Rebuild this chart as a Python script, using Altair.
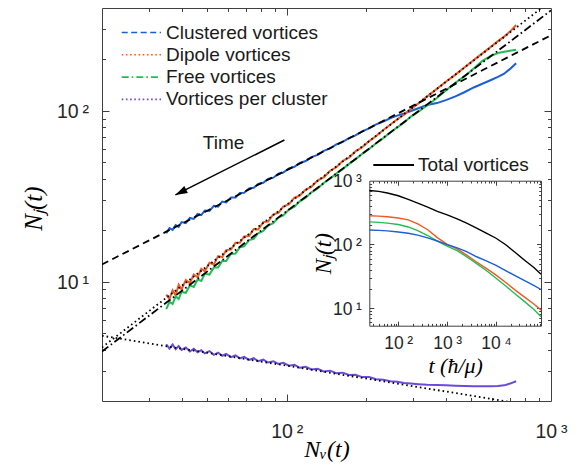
import math
import altair as alt
import pandas as pd

# ---------------- main panel data ----------------
nv_pts = [35, 36, 37, 38, 39, 40, 41.5, 43, 44.5, 46, 47.5, 49, 51, 53, 55, 57, 59,
          61.5, 64, 66.5, 69, 72, 75, 78, 81.5, 85, 89, 93, 97, 102, 107, 112, 118,
          124, 131, 138, 146, 154, 163, 172, 182, 193, 205, 218, 232, 247, 262, 278,
          295, 315, 340, 370, 400, 435, 470, 510, 550, 590, 630, 665, 700, 738]
clustered = [19.2, 20.6, 20.1, 21.4, 20.9, 22.3, 22.0, 23.6, 23.3, 24.9, 24.5, 26.1,
             25.9, 27.8, 27.5, 29.4, 29.1, 31.1, 31.1, 33.0, 33.1, 35.1, 35.4, 37.3,
             37.9, 39.9, 40.6, 42.8, 43.5, 46.0, 47.0, 49.5, 50.8, 53.6, 55.2, 58.3,
             60.2, 63.5, 65.8, 69.3, 71.8, 75.8, 79.0, 83.3, 86.6, 90.6, 93.8, 96.4,
             99.8, 103.5, 108.2, 111.0, 115.5, 121.5, 128.5, 137, 144, 151, 158, 165,
             176, 190]
dipole = [8.4, 7.9, 8.9, 8.3, 9.6, 9.0, 10.2, 9.8, 11.0, 10.6, 11.9, 11.5, 12.9, 12.6,
          14.1, 13.9, 15.3, 15.4, 16.9, 16.9, 18.4, 18.5, 20.3, 20.2, 22.3, 22.5, 24.8,
          25.3, 27.5, 28.4, 31.0, 31.9, 34.6, 35.9, 39.2, 40.8, 44.6, 46.7, 51.0, 53.2,
          57.9, 61.2, 66.5, 71.2, 77.3, 83.1, 89.3, 95.0, 102.5, 110.5, 121.5, 134.5,
          148, 163, 179.5, 198, 217, 236, 256, 272, 291, 318]
free = [6.9, 7.6, 7.4, 8.2, 7.9, 8.7, 8.6, 9.5, 9.3, 10.3, 10.1, 11.1, 11.0, 12.1, 12.1,
        13.2, 13.2, 14.5, 14.6, 15.9, 16.1, 17.5, 17.8, 19.2, 19.8, 21.3, 22.0, 23.7,
        24.4, 26.4, 27.5, 29.5, 31.0, 33.3, 35.1, 37.8, 40.0, 43.0, 45.6, 48.9, 52.0,
        56.0, 59.8, 64.6, 69.2, 74.9, 80.0, 85.5, 92.5, 99.0, 107.5, 119.0, 131.5, 146,
        159, 177, 196, 209, 218, 222, 225, 228]
per_cluster = [4.30, 4.05, 4.28, 4.02, 4.20, 3.98, 4.12, 3.90, 4.05, 3.86, 3.97, 3.80,
               3.92, 3.73, 3.84, 3.68, 3.77, 3.61, 3.70, 3.55, 3.63, 3.48, 3.56, 3.42,
               3.49, 3.36, 3.42, 3.30, 3.35, 3.22, 3.26, 3.13, 3.17, 3.06, 3.09, 2.98,
               3.01, 2.91, 2.93, 2.84, 2.85, 2.76, 2.76, 2.68, 2.66, 2.61, 2.59, 2.55,
               2.53, 2.51, 2.49, 2.48, 2.47, 2.46, 2.45, 2.44, 2.44, 2.44, 2.45, 2.47,
               2.53, 2.61]

# power-law fits (straight lines on log-log): end points
fit_nv = [20, 1000]
fit_clustered = [12.6, 277]
fit_dipole = [4.12, 441]
fit_free = [3.9, 387]
fit_per_cluster = [4.82, 1.806]

# "Time" arrow annotation (data coordinates)
arrow_nv = [98, 37.9]
arrow_nj = [67.5, 32.2]
time_nv = [57.7]
time_nj = [64.8]
time_text = ["Time"]

legend_labels = ["Clustered vortices", "Dipole vortices", "Free vortices",
                 "Vortices per cluster"]
inset_legend_label = ["Total vortices"]

# ---------------- inset data ----------------
t_pts = [25.6, 40, 60, 100, 160, 250, 400, 630, 1000, 1600, 2500, 4000, 6300, 10000,
         16000, 25000, 40000, 60000, 82800]
total_t = [700, 680, 640, 580, 510, 445, 385, 330, 290, 252, 215, 180, 150, 125, 98,
           74, 55, 43, 34]
dipole_t = [282, 278, 272, 260, 243, 210, 170, 128, 100, 85, 68, 53, 42, 33, 25, 19,
            14.5, 11.5, 9.3]
free_t = [226, 222, 216, 205, 188, 165, 138, 113, 94, 80, 64, 50, 39, 29.5, 22, 16.5,
          12.3, 9.4, 7.3]
clustered_t = [168, 166, 163, 157, 150, 140, 127, 113, 99.5, 88, 77, 64, 55, 47, 38.5,
               32, 26.5, 22.5, 19.6]

# ---------------- ticks ----------------
x_major = [100, 1000]
x_all = [30, 40, 50, 60, 70, 80, 90, 100, 200, 300, 400, 500, 600, 700, 800, 900]
y_major = [10, 100]
y_all = [3, 4, 5, 6, 7, 8, 9, 10, 20, 30, 40, 50, 60, 70, 80, 90, 100, 200, 300]
ix_major = [100, 1000, 10000]
ix_all = [30, 40, 50, 60, 70, 80, 90, 100, 200, 300, 400, 500, 600, 700, 800, 900,
          1000, 2000, 3000, 4000, 5000, 6000, 7000, 8000, 9000, 10000, 20000, 30000,
          40000, 50000, 60000, 70000, 80000]
iy_major = [10, 100, 1000]
iy_all = [6, 7, 8, 9, 10, 20, 30, 40, 50, 60, 70, 80, 90, 100, 200, 300, 400, 500,
          600, 700, 800, 900]

# ---------------- styles ----------------
W, H = 449, 393
BLUE, ORANGE, GREEN, PURPLE = "#1a5fd4", "#ef5a22", "#22bb55", "#6a4cd6"
FRAME = "#404040"
SANS = "Liberation Sans"
SERIF = "Liberation Serif"
SUP = {1: "\u00b9", 2: "\u00b2", 3: "\u00b3", 4: "\u2074"}

# inset placement inside the main plot area (pixels)
IX0, IX1 = 267.3, 439.0
IY0, IY1 = 172.7, 317.7


def pow_label_expr(majors):
    expr = "''"
    for v in reversed(majors):
        e = round(math.log10(v))
        expr = f"datum.value == {v} ? '10\u2009{SUP[e]}' : {expr}"
    return expr


def tick_cond(majors, big, small):
    return {"condition": {"test": f"indexof({majors}, datum.value) >= 0", "value": big},
            "value": small}


def inward(orient, offset, values, majors, big, small):
    return alt.Axis(orient=orient, offset=offset, values=values, labels=False,
                    ticks=True, tickSize=tick_cond(majors, big, small),
                    tickColor=FRAME, tickWidth=1, domain=True, domainColor=FRAME,
                    domainWidth=1, grid=False, title=None)


def mx(axis):
    return alt.X("nv:Q", scale=alt.Scale(type="log", domain=[20, 1000]), axis=axis)


def my(axis):
    return alt.Y("nj:Q", scale=alt.Scale(type="log", domain=[2, 400]), axis=axis)


def ix(axis):
    return alt.X("t:Q", scale=alt.Scale(type="log", domain=[25.6, 82800],
                                        range=[IX0, IX1]), axis=axis)


def iy(axis):
    return alt.Y("n:Q", scale=alt.Scale(type="log", domain=[5.3, 1000],
                                        range=[IY1, IY0]), axis=axis)


main_x_axis = alt.Axis(orient="bottom", values=x_major, labelExpr=pow_label_expr(x_major),
                       ticks=False, domain=False, grid=False, labelFont=SANS,
                       labelFontSize=19.5, labelColor="#262626", labelPadding=36,
                       labelBaseline="alphabetic", labelFlush=False, labelOverlap=False,
                       title="N\u1d65(t)", titleFont=SERIF, titleFontStyle="italic",
                       titleFontWeight="normal", titleFontSize=24, titleColor="black",
                       titleY=55, titleBaseline="alphabetic")
main_y_axis = alt.Axis(orient="left", values=y_major, labelExpr=pow_label_expr(y_major),
                       ticks=False, domain=False, grid=False, labelFont=SANS,
                       labelFontSize=19.5, labelColor="#262626", labelPadding=13.5,
                       labelOffset=1, labelFlush=False, labelOverlap=False,
                       title="N\u2c7c(t)", titleFont=SERIF, titleFontStyle="italic",
                       titleFontWeight="normal", titleFontSize=25, titleColor="black",
                       titleX=-61, titleY=200, titleBaseline="alphabetic")

inset_x_axis = alt.Axis(orient="bottom", offset=-(H - IY1), values=ix_major,
                        labelExpr=pow_label_expr(ix_major), ticks=False, domain=False,
                        grid=False, labelFont=SANS, labelFontSize=17.5,
                        labelColor="#262626", labelPadding=22.5,
                        labelBaseline="alphabetic", labelFlush=False,
                        labelOverlap=False, title="t (\u0127/\u03bc)", titleFont=SERIF,
                        titleFontStyle="italic", titleFontWeight="normal",
                        titleFontSize=22, titleColor="black", titleY=47,
                        titleBaseline="alphabetic")
inset_y_axis = alt.Axis(orient="left", offset=-IX0, values=iy_major,
                        labelExpr=pow_label_expr(iy_major), ticks=False, domain=False,
                        grid=False, labelFont=SANS, labelFontSize=17.5,
                        labelColor="#262626", labelPadding=8, labelOffset=1,
                        labelFlush=False, labelOverlap=False, title="N\u2c7c(t)",
                        titleFont=SERIF, titleFontStyle="italic",
                        titleFontWeight="normal", titleFontSize=23, titleColor="black",
                        titleX=-39, titleBaseline="alphabetic")

# ---------------- main layers ----------------
df_cl = pd.DataFrame({"nv": nv_pts, "nj": clustered})
df_dp = pd.DataFrame({"nv": nv_pts, "nj": dipole})
df_fr = pd.DataFrame({"nv": nv_pts, "nj": free})
df_pc = pd.DataFrame({"nv": nv_pts, "nj": per_cluster})

line_w = 2.0
l_cl = alt.Chart(df_cl).mark_line(color=BLUE, strokeWidth=line_w).encode(
    x=mx(main_x_axis), y=my(main_y_axis))
l_dp = alt.Chart(df_dp).mark_line(color=ORANGE, strokeWidth=line_w).encode(
    x=mx(inward("top", -H, x_all, x_major, 7, 3.5)),
    y=my(inward("right", -W, y_all, y_major, 7, 3.5)))
l_fr = alt.Chart(df_fr).mark_line(color=GREEN, strokeWidth=line_w).encode(
    x=mx(inward("bottom", -H, x_all, x_major, 7, 3.5)),
    y=my(inward("left", -W, y_all, y_major, 7, 3.5)))
l_pc = alt.Chart(df_pc).mark_line(color=PURPLE, strokeWidth=line_w).encode(
    x=mx(None), y=my(None))

fit_specs = [(fit_clustered, [7, 4.5]), (fit_dipole, [1.6, 3]),
             (fit_free, [8, 3, 1.6, 3]), (fit_per_cluster, [1.6, 3])]
fit_layers = []
for vals, dash in fit_specs:
    fit_layers.append(
        alt.Chart(pd.DataFrame({"nv": fit_nv, "nj": vals}))
        .mark_line(color="black", strokeWidth=1.8, strokeDash=dash, clip=True)
        .encode(x=mx(None), y=my(None)))

arrow_line = alt.Chart(pd.DataFrame({"nv": arrow_nv, "nj": arrow_nj})).mark_line(
    color="black", strokeWidth=1.5).encode(x=mx(None), y=my(None))
arrow_head = alt.Chart(pd.DataFrame({"nv": arrow_nv[1:], "nj": arrow_nj[1:]})).mark_point(
    shape="M0,0L0.33,1L-0.33,1Z", size=576, angle=243.2, filled=True, color="black",
    opacity=1, strokeWidth=0).encode(x=mx(None), y=my(None))
time_lbl = alt.Chart(pd.DataFrame({"nv": time_nv, "nj": time_nj, "label": time_text})).mark_text(
    font=SANS, fontSize=19, color="#1a1a1a", align="center", baseline="middle").encode(
    x=mx(None), y=my(None), text="label:N")

legend_layers = []
leg_styles = [(BLUE, [6, 3.5]), (ORANGE, [1.6, 2.6]), (GREEN, [7, 3, 1.6, 3]),
              (PURPLE, [1.6, 2.6])]
for i, (lab, (col, dash)) in enumerate(zip(legend_labels, leg_styles)):
    yy = 24.5 + 22.3 * i
    d = pd.DataFrame({"label": [lab]})
    legend_layers.append(alt.Chart(d).mark_rule(color=col, strokeWidth=1.6, strokeDash=dash)
                         .encode(x=alt.value(19.7), x2=alt.value(59), y=alt.value(yy)))
    legend_layers.append(alt.Chart(d).mark_text(font=SANS, fontSize=19, color="#1a1a1a",
                                                align="left", baseline="middle")
                         .encode(x=alt.value(64), y=alt.value(yy), text="label:N"))

d_tot = pd.DataFrame({"label": inset_legend_label})
legend_layers.append(alt.Chart(d_tot).mark_rule(color="black", strokeWidth=1.8)
                     .encode(x=alt.value(271.3), x2=alt.value(312), y=alt.value(157)))
legend_layers.append(alt.Chart(d_tot).mark_text(font=SANS, fontSize=19, color="#1a1a1a",
                                                align="left", baseline="middle")
                     .encode(x=alt.value(316), y=alt.value(157), text="label:N"))

main = alt.layer(l_cl, l_dp, l_fr, l_pc, *fit_layers, arrow_line, arrow_head, time_lbl,
                 *legend_layers).resolve_axis(x="independent", y="independent")

# ---------------- inset layers ----------------
iw = 1.4
i_tot = alt.Chart(pd.DataFrame({"t": t_pts, "n": total_t})).mark_line(
    color="black", strokeWidth=iw).encode(x=ix(inset_x_axis), y=iy(inset_y_axis))
i_dp = alt.Chart(pd.DataFrame({"t": t_pts, "n": dipole_t})).mark_line(
    color=ORANGE, strokeWidth=iw).encode(
    x=ix(inward("top", -IY1, ix_all, ix_major, 4.5, 2.3)),
    y=iy(inward("right", -(W - IX0), iy_all, iy_major, 4.5, 2.3)))
i_fr = alt.Chart(pd.DataFrame({"t": t_pts, "n": free_t})).mark_line(
    color=GREEN, strokeWidth=iw).encode(
    x=ix(inward("bottom", -(H - IY0), ix_all, ix_major, 4.5, 2.3)),
    y=iy(inward("left", -IX1, iy_all, iy_major, 4.5, 2.3)))
i_cl = alt.Chart(pd.DataFrame({"t": t_pts, "n": clustered_t})).mark_line(
    color=BLUE, strokeWidth=iw).encode(x=ix(None), y=iy(None))

inset = alt.layer(i_tot, i_dp, i_fr, i_cl).resolve_axis(x="independent", y="independent")

chart = (alt.layer(main, inset)
         .resolve_scale(x="independent", y="independent")
         .properties(width=W, height=H, autosize=alt.AutoSizeParams(type="none"),
                     padding={"left": 94, "top": 0, "right": 21, "bottom": 62})
         .configure_view(stroke=None))

chart.save("out.html", embed_options={"renderer": "svg", "actions": False})
